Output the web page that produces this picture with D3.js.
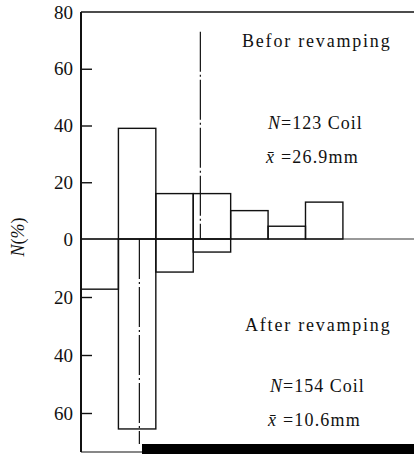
<!DOCTYPE html>
<html>
<head>
<meta charset="utf-8">
<script src="https://cdn.jsdelivr.net/npm/d3@7/dist/d3.min.js"></script>
<style>
  body { margin: 0; background: #fff; }
  svg { display: block; }
</style>
</head>
<body>
<svg id="chart" width="414" height="454"></svg>
<script>
// bin centres (mm), 10 mm wide bins
var bins = [0, 10, 20, 30, 40, 50, 60];
// N (%) before revamping, plotted upwards
var before = [0, 39, 16, 16, 10, 4.5, 13];
// N (%) after revamping, plotted downwards
var after = [17.3, 65.5, 11.4, 4.5, 0, 0, 0];
var meanBefore = 26.9, meanAfter = 10.6;
var ticksUp = [0, 20, 40, 60, 80];
var ticksDown = [20, 40, 60];

var FONT = "'Liberation Serif', 'DejaVu Serif', 'Times New Roman', Times, serif";

var svg = d3.select('#chart');

var x = d3.scaleLinear().domain([-5, 84]).range([81, 414]);
var yUp = d3.scaleLinear().domain([0, 80]).range([239, 12]);
var yDown = d3.scaleLinear().domain([0, 60]).range([239, 413]);

// scan artefact at the bottom
svg.append('rect')
    .attr('x', 142).attr('y', 444)
    .attr('width', 272).attr('height', 10)
    .attr('fill', '#000');
svg.append('line')
    .attr('x1', 81).attr('x2', 142)
    .attr('y1', 452).attr('y2', 452)
    .attr('stroke', '#111').attr('stroke-width', 1.2);

// zero line
svg.append('line')
    .attr('x1', x(-5)).attr('x2', 414)
    .attr('y1', yUp(0)).attr('y2', yUp(0))
    .attr('stroke', '#777').attr('stroke-width', 1.5);

// top frame line
svg.append('line')
    .attr('x1', x(-5)).attr('x2', 414)
    .attr('y1', yUp(80)).attr('y2', yUp(80))
    .attr('stroke', '#111').attr('stroke-width', 1.5);

var barsUp = bins.map(function(b, i){ return { c: b, v: before[i] }; })
    .filter(function(d){ return d.v > 0; });
var barsDown = bins.map(function(b, i){ return { c: b, v: after[i] }; })
    .filter(function(d){ return d.v > 0; });

svg.append('g').selectAll('rect')
    .data(barsUp)
    .enter().append('rect')
    .attr('x', function(d){ return x(d.c - 5); })
    .attr('width', function(d){ return x(d.c + 5) - x(d.c - 5); })
    .attr('y', function(d){ return yUp(d.v); })
    .attr('height', function(d){ return yUp(0) - yUp(d.v); })
    .attr('fill', 'none').attr('stroke', '#111').attr('stroke-width', 1.4);

svg.append('g').selectAll('rect')
    .data(barsDown)
    .enter().append('rect')
    .attr('x', function(d){ return x(d.c - 5); })
    .attr('width', function(d){ return x(d.c + 5) - x(d.c - 5); })
    .attr('y', yDown(0))
    .attr('height', function(d){ return yDown(d.v) - yDown(0); })
    .attr('fill', 'none').attr('stroke', '#111').attr('stroke-width', 1.4);

// mean lines (dash-dot)
svg.append('line')
    .attr('x1', x(meanBefore)).attr('x2', x(meanBefore))
    .attr('y1', yUp(73)).attr('y2', yUp(0))
    .attr('stroke', '#111').attr('stroke-width', 1.2)
    .attr('stroke-dasharray', '40,3,2,3');
svg.append('line')
    .attr('x1', x(meanAfter)).attr('x2', x(meanAfter))
    .attr('y1', yDown(0)).attr('y2', 444)
    .attr('stroke', '#111').attr('stroke-width', 1.2)
    .attr('stroke-dasharray', '40,3,2,3');

// y axes, ticks pointing inwards
var axisUp = d3.axisRight(yUp).tickValues(ticksUp.filter(function(t){ return t > 0 && t < 80; }))
    .tickSize(11).tickFormat('');
var axisDown = d3.axisRight(yDown).tickValues(ticksDown).tickSize(11).tickFormat('');

var gUp = svg.append('g').attr('transform', 'translate(' + x(-5) + ',0)').call(axisUp);
var gDown = svg.append('g').attr('transform', 'translate(' + x(-5) + ',0)').call(axisDown);
[gUp, gDown].forEach(function(g){
    g.select('.domain').remove();
    g.selectAll('line').attr('stroke', '#111').attr('stroke-width', 1.4);
});

svg.append('line')
    .attr('x1', x(-5)).attr('x2', x(-5))
    .attr('y1', yUp(80)).attr('y2', 452)
    .attr('stroke', '#111').attr('stroke-width', 2);

// tick labels
var tl = svg.append('g')
    .attr('font-family', FONT).attr('font-size', 19).attr('fill', '#111')
    .attr('text-anchor', 'end');
tl.selectAll('text.up')
    .data(ticksUp)
    .enter().append('text')
    .attr('class', 'up')
    .attr('x', 73).attr('y', function(d){ return yUp(d); })
    .attr('dy', '0.35em')
    .text(function(d){ return d; });
tl.selectAll('text.down')
    .data(ticksDown)
    .enter().append('text')
    .attr('class', 'down')
    .attr('x', 73).attr('y', function(d){ return yDown(d); })
    .attr('dy', '0.35em')
    .text(function(d){ return d; });

// y label
var yl = svg.append('text')
    .attr('transform', 'translate(24,237) rotate(-90)')
    .attr('text-anchor', 'middle')
    .attr('font-family', FONT).attr('font-size', 18).attr('fill', '#111');
yl.append('tspan').attr('font-style', 'italic').text('N');
yl.append('tspan').text('(');
yl.append('tspan').attr('font-style', 'italic').text('%');
yl.append('tspan').text(')');

// annotations
function label(xp, yp, title){
    svg.append('text')
        .attr('x', xp).attr('y', yp)
        .attr('font-family', FONT).attr('font-size', 18).attr('fill', '#111')
        .attr('letter-spacing', 1.8)
        .text(title);
}
function stats(xp, yp, n, mean){
    var t = svg.append('text').attr('x', xp).attr('y', yp)
        .attr('font-family', FONT).attr('font-size', 18).attr('fill', '#111')
        .attr('letter-spacing', 1);
    t.append('tspan').attr('font-style', 'italic').text('N');
    t.append('tspan').text('=' + n + ' Coil');
    var m = svg.append('text').attr('x', xp - 2).attr('y', yp + 34)
        .attr('font-family', FONT).attr('font-size', 18).attr('fill', '#111')
        .attr('letter-spacing', 1.2);
    m.append('tspan').attr('font-style', 'italic').text('x\u0304');
    m.append('tspan').text(' =' + mean + 'mm');
}
label(242, 47, 'Befor revamping');
stats(268, 129, 123, meanBefore);
label(245, 331, 'After revamping');
stats(270, 392, 154, meanAfter);
</script>
</body>
</html>
